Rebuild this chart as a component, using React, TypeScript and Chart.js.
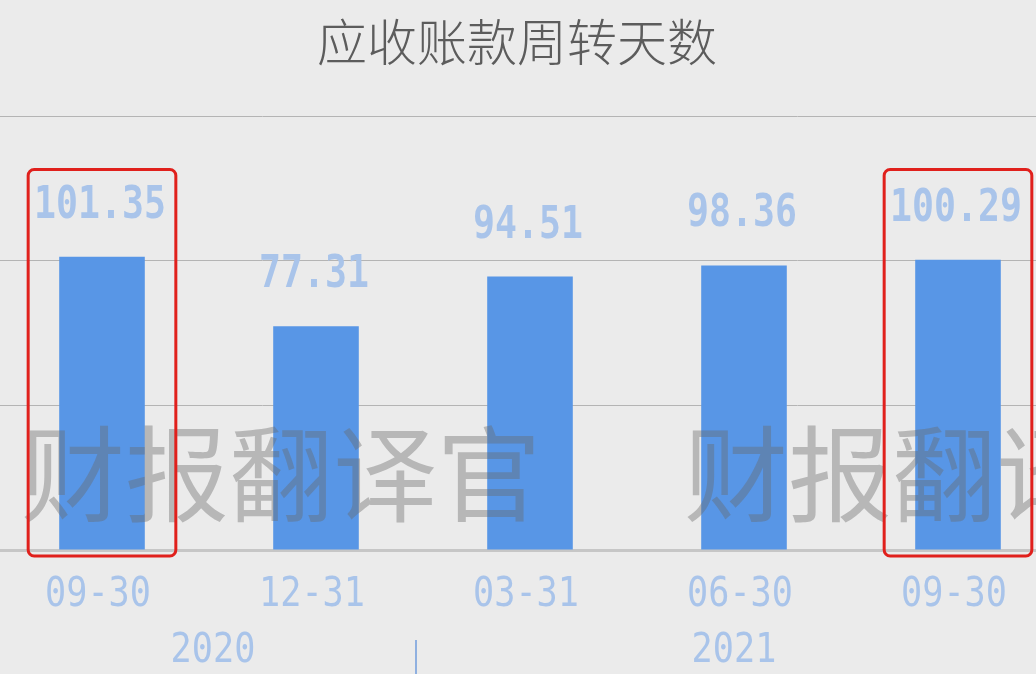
import React, { useEffect, useRef } from "react";
import { Chart, registerables } from "chart.js";

Chart.register(...registerables);

const categories = ["09-30", "12-31", "03-31", "06-30", "09-30"];
const values = [101.35, 77.31, 94.51, 98.36, 100.29];
const yearLabels = ["2020", "2021"];
const yearStart = [0, 2];
const yearEnd = [1, 4];
const highlighted = [0, 4];
const titleText = "应收账款周转天数";
const watermarkText = "财报翻译官";

const BAR = "#5896e6";
const LABEL = "#a9c4ea";

function scaledText(ctx: CanvasRenderingContext2D, text: string, x: number, y: number, sx: number) {
  ctx.save();
  ctx.translate(x, y);
  ctx.scale(sx, 1);
  ctx.fillText(text, 0, 0);
  ctx.restore();
}

const overlay = {
  id: "overlay",
  afterDatasetsDraw(chart: any) {
    const { ctx, chartArea, scales } = chart;
    const xs = scales.x;
    const ys = scales.y;
    const step = xs.getPixelForValue(1) - xs.getPixelForValue(0);

    // title
    ctx.save();
    ctx.font = '300 50px "Noto Sans CJK SC"';
    ctx.fillStyle = "#5c5c5c";
    ctx.textAlign = "center";
    ctx.textBaseline = "middle";
    ctx.fillText(titleText, (chartArea.left + chartArea.right) / 2 - 13, 42);
    ctx.restore();

    // watermark
    ctx.save();
    ctx.font = '104px "Noto Sans CJK SC"';
    ctx.fillStyle = "rgba(105,105,105,0.4)";
    ctx.textAlign = "left";
    ctx.textBaseline = "middle";
    ctx.fillText(watermarkText, chartArea.left + 26, 474);
    ctx.fillText(watermarkText, chartArea.left + 689, 474);
    ctx.restore();

    // value labels
    ctx.save();
    ctx.font = 'bold 44px "DejaVu Sans Mono"';
    ctx.fillStyle = LABEL;
    ctx.textAlign = "center";
    ctx.textBaseline = "alphabetic";
    values.forEach((v, i) => {
      scaledText(ctx, v.toFixed(2), xs.getPixelForValue(i) - 2, ys.getPixelForValue(v) - 39, 0.83);
    });
    ctx.restore();

    // category labels
    ctx.save();
    ctx.font = '40px "DejaVu Sans Mono"';
    ctx.fillStyle = LABEL;
    ctx.textAlign = "center";
    ctx.textBaseline = "middle";
    categories.forEach((c, i) => {
      scaledText(ctx, c, xs.getPixelForValue(i) - 4, chartArea.bottom + 46, 0.88);
    });
    yearLabels.forEach((y, k) => {
      const cx = (xs.getPixelForValue(yearStart[k]) + xs.getPixelForValue(yearEnd[k])) / 2;
      scaledText(ctx, y, cx + (k === 0 ? 4 : -10), chartArea.bottom + 102, 0.88);
    });
    // group separator
    for (let k = 1; k < yearStart.length; k++) {
      const sx = xs.getPixelForValue(yearStart[k]) - step / 2 - 7;
      ctx.strokeStyle = "#8fb0e0";
      ctx.lineWidth = 2;
      ctx.beginPath();
      ctx.moveTo(sx, chartArea.bottom + 90);
      ctx.lineTo(sx, chart.height);
      ctx.stroke();
    }
    ctx.restore();

    // highlight boxes
    ctx.save();
    ctx.strokeStyle = "#e0201c";
    ctx.lineWidth = 3;
    highlighted.forEach((i) => {
      const cx = xs.getPixelForValue(i);
      const left = cx - step * 0.345;
      const right = cx + step * 0.345;
      const top = ys.getPixelForValue(131.5);
      const bottom = chartArea.bottom + 6;
      ctx.beginPath();
      ctx.roundRect(left, top, right - left, bottom - top, 6);
      ctx.stroke();
    });
    ctx.restore();
  },
};

export default function App() {
  const ref = useRef<HTMLCanvasElement>(null);

  useEffect(() => {
    if (!ref.current) return;
    const chart = new Chart(ref.current, {
      type: "bar",
      data: {
        labels: categories,
        datasets: [
          {
            data: values,
            backgroundColor: BAR,
            borderWidth: 0,
            barPercentage: 0.4,
            categoryPercentage: 1,
          },
        ],
      },
      options: {
        animation: false,
        responsive: true,
        maintainAspectRatio: false,
        layout: { padding: { left: 0, right: 0, top: 116, bottom: 124 } },
        plugins: {
          legend: { display: false },
          tooltip: { enabled: false },
          title: { display: false },
        },
        scales: {
          x: {
            grid: { display: false, drawTicks: false },
            ticks: { display: false },
            border: { display: true, color: "#c6c6c6", width: 3 },
          },
          y: {
            min: 0,
            max: 150,
            ticks: { display: false, stepSize: 50 },
            border: { display: false },
            grid: {
              drawTicks: false,
              color: (c: any) => (c.tick && c.tick.value === 0 ? "rgba(0,0,0,0)" : "#b4b4b4"),
              lineWidth: 1,
            },
          },
        },
      },
      plugins: [overlay],
    });
    return () => chart.destroy();
  }, []);

  return (
    <div
      style={{
        position: "fixed",
        left: 0,
        top: 0,
        width: 1036,
        height: 674,
        overflow: "hidden",
        background: "#ebebeb",
      }}
    >
      <div style={{ position: "absolute", left: -5, top: 0, width: 1070, height: 674 }}>
        <canvas ref={ref} />
      </div>
    </div>
  );
}
